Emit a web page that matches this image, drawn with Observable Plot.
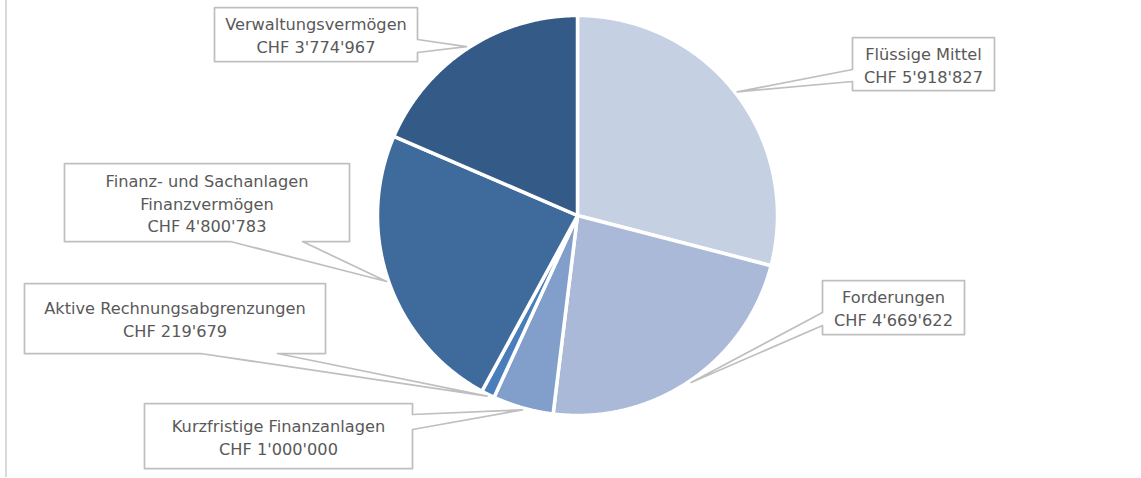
<!DOCTYPE html>
<html>
<head>
<meta charset="utf-8">
<script src="https://cdn.jsdelivr.net/npm/d3@7"></script>
<script src="https://cdn.jsdelivr.net/npm/@observablehq/plot@0.6"></script>
<style>
  html, body { margin: 0; padding: 0; background: #ffffff; }
  #chart svg { display: block; }
</style>
</head>
<body>
<div id="chart"></div>
<script>
// ---- data ----
const categories = ["Flüssige Mittel", "Forderungen", "Kurzfristige Finanzanlagen", "Aktive Rechnungsabgrenzungen", "Finanz- und Sachanlagen", "Verwaltungsvermögen"];
const labelLines = ["Flüssige Mittel", "Forderungen", "Kurzfristige Finanzanlagen", "Aktive Rechnungsabgrenzungen", "Finanz- und Sachanlagen\nFinanzvermögen", "Verwaltungsvermögen"];
const values = [5918827, 4669622, 1000000, 219679, 4800783, 3774967];
const colors = ["#c5d0e3", "#aab9d8", "#829fcc", "#4a7ebb", "#3e6a9c", "#345b87"];

// ---- layout (pixel units of the plot frame) ----
const W = 1141, H = 478;
const cx = 577, cy = 215, R = 200;
// callout boxes: [x1, y1, x2, y2], wedge side, wedge base along that side
const boxes = [
  {box: [852, 37, 994, 90],  side: "left",   base: [69, 81]},
  {box: [822, 280, 964, 334], side: "left",  base: [312, 325]},
  {box: [144, 403, 412, 468], side: "right", base: [414, 429]},
  {box: [24, 283, 325, 353],  side: "bottom", base: [200, 277]},
  {box: [64, 163, 349, 241],  side: "bottom", base: [230, 302]},
  {box: [214, 7, 417, 61],    side: "right",  base: [39, 52]}
];

const fmt = d3.formatLocale({decimal: ".", thousands: "'", grouping: [3], currency: ["", ""]}).format(",d");

// ---- pie geometry from values ----
const arcs = d3.pie().sort(null).value(d => d)(values);
const slicePts = [];
arcs.forEach((a, i) => {
  slicePts.push({name: categories[i], x: cx, y: cy});
  const n = Math.max(2, Math.ceil((a.endAngle - a.startAngle) / 0.005));
  for (let k = 0; k <= n; k++) {
    const t = a.startAngle + (a.endAngle - a.startAngle) * k / n;
    slicePts.push({name: categories[i], x: cx + R * Math.sin(t), y: cy - R * Math.cos(t)});
  }
});

// ---- callouts ----
const calloutPts = [];
const labels = [];
arcs.forEach((a, i) => {
  const mid = (a.startAngle + a.endAngle) / 2;
  const tx = cx + (R + 2) * Math.sin(mid), ty = cy - (R + 2) * Math.cos(mid);
  const {box: [x1, y1, x2, y2], side, base: [b1, b2]} = boxes[i];
  let pts;
  if (side === "right") pts = [[x1,y1],[x2,y1],[x2,b1],[tx,ty],[x2,b2],[x2,y2],[x1,y2]];
  else if (side === "left") pts = [[x1,y1],[x2,y1],[x2,y2],[x1,y2],[x1,b2],[tx,ty],[x1,b1]];
  else pts = [[x1,y1],[x2,y1],[x2,y2],[b2,y2],[tx,ty],[b1,y2],[x1,y2]];
  pts.forEach(([x, y]) => calloutPts.push({name: categories[i], x, y}));
  labels.push({x: (x1 + x2) / 2, y: (y1 + y2) / 2, text: labelLines[i] + "\nCHF " + fmt(values[i])});
});

const chart = Plot.plot({
  width: W,
  height: H,
  margin: 0,
  x: {domain: [0, W], range: [0, W], axis: null},
  y: {domain: [0, H], range: [0, H], axis: null},
  color: {domain: categories, range: colors},
  style: {fontFamily: "'DejaVu Sans', Verdana, sans-serif", background: "#ffffff"},
  marks: [
    Plot.ruleX([5.5], {y1: 0, y2: 477, stroke: "#d9d9d9", strokeWidth: 2}),
    Plot.line(slicePts, {x: "x", y: "y", z: "name", fill: "name", stroke: "#ffffff", strokeWidth: 3.5, strokeLinejoin: "round", curve: "linear-closed"}),
    Plot.line(calloutPts, {x: "x", y: "y", z: "name", fill: "#ffffff", stroke: "#bfbfbf", strokeWidth: 1.75, curve: "linear-closed"}),
    Plot.text(labels, {x: "x", y: "y", text: "text", fill: "#595959", fontSize: 16.2, lineHeight: 1.4, textAnchor: "middle"})
  ]
});
document.getElementById("chart").appendChild(chart);
</script>
</body>
</html>
